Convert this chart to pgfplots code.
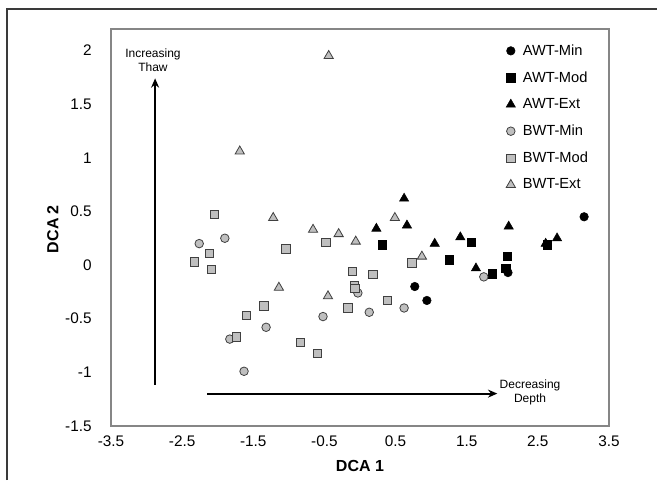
\documentclass[border=0pt]{standalone}
\usepackage{fontspec}
\setmainfont{Liberation Sans}
\usepackage{pgfplots}
\pgfplotsset{compat=1.18}
\usetikzlibrary{arrows.meta}
\definecolor{mgray}{HTML}{BFBFBF}
\definecolor{egray}{HTML}{404040}
\definecolor{agray}{HTML}{868686}
\definecolor{fgray}{HTML}{3A3A3A}
\begin{document}
\begin{tikzpicture}
\path[use as bounding box] (0pt,0pt) rectangle (492.75pt,360pt);
\draw[color=fgray, line width=1.3pt] (5.5pt,0pt) -- (5.5pt,353pt) -- (492.75pt,353pt);
\begin{axis}[
  at={(83.25pt,40.5pt)}, anchor=south west,
  scale only axis, width=373.5pt, height=297.75pt,
  xmin=-3.5, xmax=3.5, ymin=-1.5, ymax=2.2,
  xtick={-3.5,-2.5,-1.5,-0.5,0.5,1.5,2.5,3.5},
  ytick={-1.5,-1,-0.5,0,0.5,1,1.5,2},
  major tick length=0pt,
  axis line style={color=agray, line width=0.9pt},
  /pgf/number format/assume math mode=true,
  /pgf/number format/fixed,
  tick label style={font=\fontsize{11.5}{13}\selectfont},
  yticklabel style={xshift=-11pt},
  xticklabel style={yshift=-4pt},
  xlabel={\textbf{DCA 1}}, ylabel={\textbf{DCA 2}},
  label style={font=\fontsize{12}{14}\selectfont},
  xlabel style={at={(axis description cs:0.5,-0.101)}, anchor=center},
  ylabel style={at={(axis description cs:-0.1165,0.496)}, anchor=center, rotate=0},
  legend style={at={(0.785,0.975)}, anchor=north west, draw=none, fill=none,
    font=\fontsize{11}{13}\selectfont, row sep=6.75pt, column sep=3.5pt},
  legend cell align=left,
  clip=false,
]
\addplot[only marks, mark=*, mark size=3.2pt, mark options={fill=black, draw=black}]
  table {
x y
3.15 0.45
0.77 -0.20
0.94 -0.33
2.08 -0.07
};
\addlegendentry{AWT-Min}
\addplot[only marks, mark=square*, mark size=3.1pt, mark options={fill=black, draw=black}]
  table {
x y
0.31 0.19
1.25 0.05
1.56 0.21
2.07 0.08
1.86 -0.08
2.05 -0.03
2.63 0.19
};
\addlegendentry{AWT-Mod}
\addplot[only marks, mark=triangle*, mark size=4pt, mark options={fill=black, draw=black}]
  table {
x y
0.62 0.62
0.66 0.37
0.23 0.34
1.05 0.20
1.41 0.26
2.09 0.36
1.63 -0.03
2.61 0.20
2.77 0.25
};
\addlegendentry{AWT-Ext}
\addplot[only marks, mark=*, mark size=3.2pt, mark options={fill=mgray, draw=egray, line width=0.6pt}]
  table {
x y
-2.26 0.20
-1.90 0.25
-1.32 -0.58
-1.83 -0.69
-1.63 -0.99
-0.52 -0.48
-0.03 -0.26
0.13 -0.44
0.62 -0.40
1.74 -0.11
};
\addlegendentry{BWT-Min}
\addplot[only marks, mark=square*, mark size=3.1pt, mark options={fill=mgray, draw=egray, line width=0.6pt}]
  table {
x y
-2.05 0.47
-2.12 0.11
-2.33 0.03
-2.09 -0.04
-1.04 0.15
-1.35 -0.38
-1.60 -0.47
-1.74 -0.67
-0.84 -0.72
-0.60 -0.82
-0.48 0.21
-0.11 -0.06
0.18 -0.09
-0.08 -0.19
-0.07 -0.22
-0.17 -0.40
0.39 -0.33
0.73 0.02
};
\addlegendentry{BWT-Mod}
\addplot[only marks, mark=triangle*, mark size=4pt, mark options={fill=mgray, draw=egray, line width=0.6pt}]
  table {
x y
-0.44 1.95
-1.69 1.06
-1.22 0.44
-1.14 -0.21
-0.66 0.33
-0.30 0.29
-0.06 0.22
0.49 0.44
0.87 0.08
-0.45 -0.29
};
\addlegendentry{BWT-Ext}
\draw[line width=1.5pt, -{Stealth[length=7pt,width=6pt]}] (axis cs:-2.88,-1.114) -- (axis cs:-2.88,1.74);
\draw[line width=1.5pt, -{Stealth[length=7pt,width=6pt]}] (axis cs:-2.15,-1.198) -- (axis cs:1.93,-1.198);
\node[align=center, font=\fontsize{9}{10.5}\selectfont] at (axis cs:-2.91,1.91) {Increasing\\Thaw};
\node[align=center, font=\fontsize{9}{10.5}\selectfont] at (axis cs:2.39,-1.19) {Decreasing\\Depth};
\end{axis}
\end{tikzpicture}
\end{document}
